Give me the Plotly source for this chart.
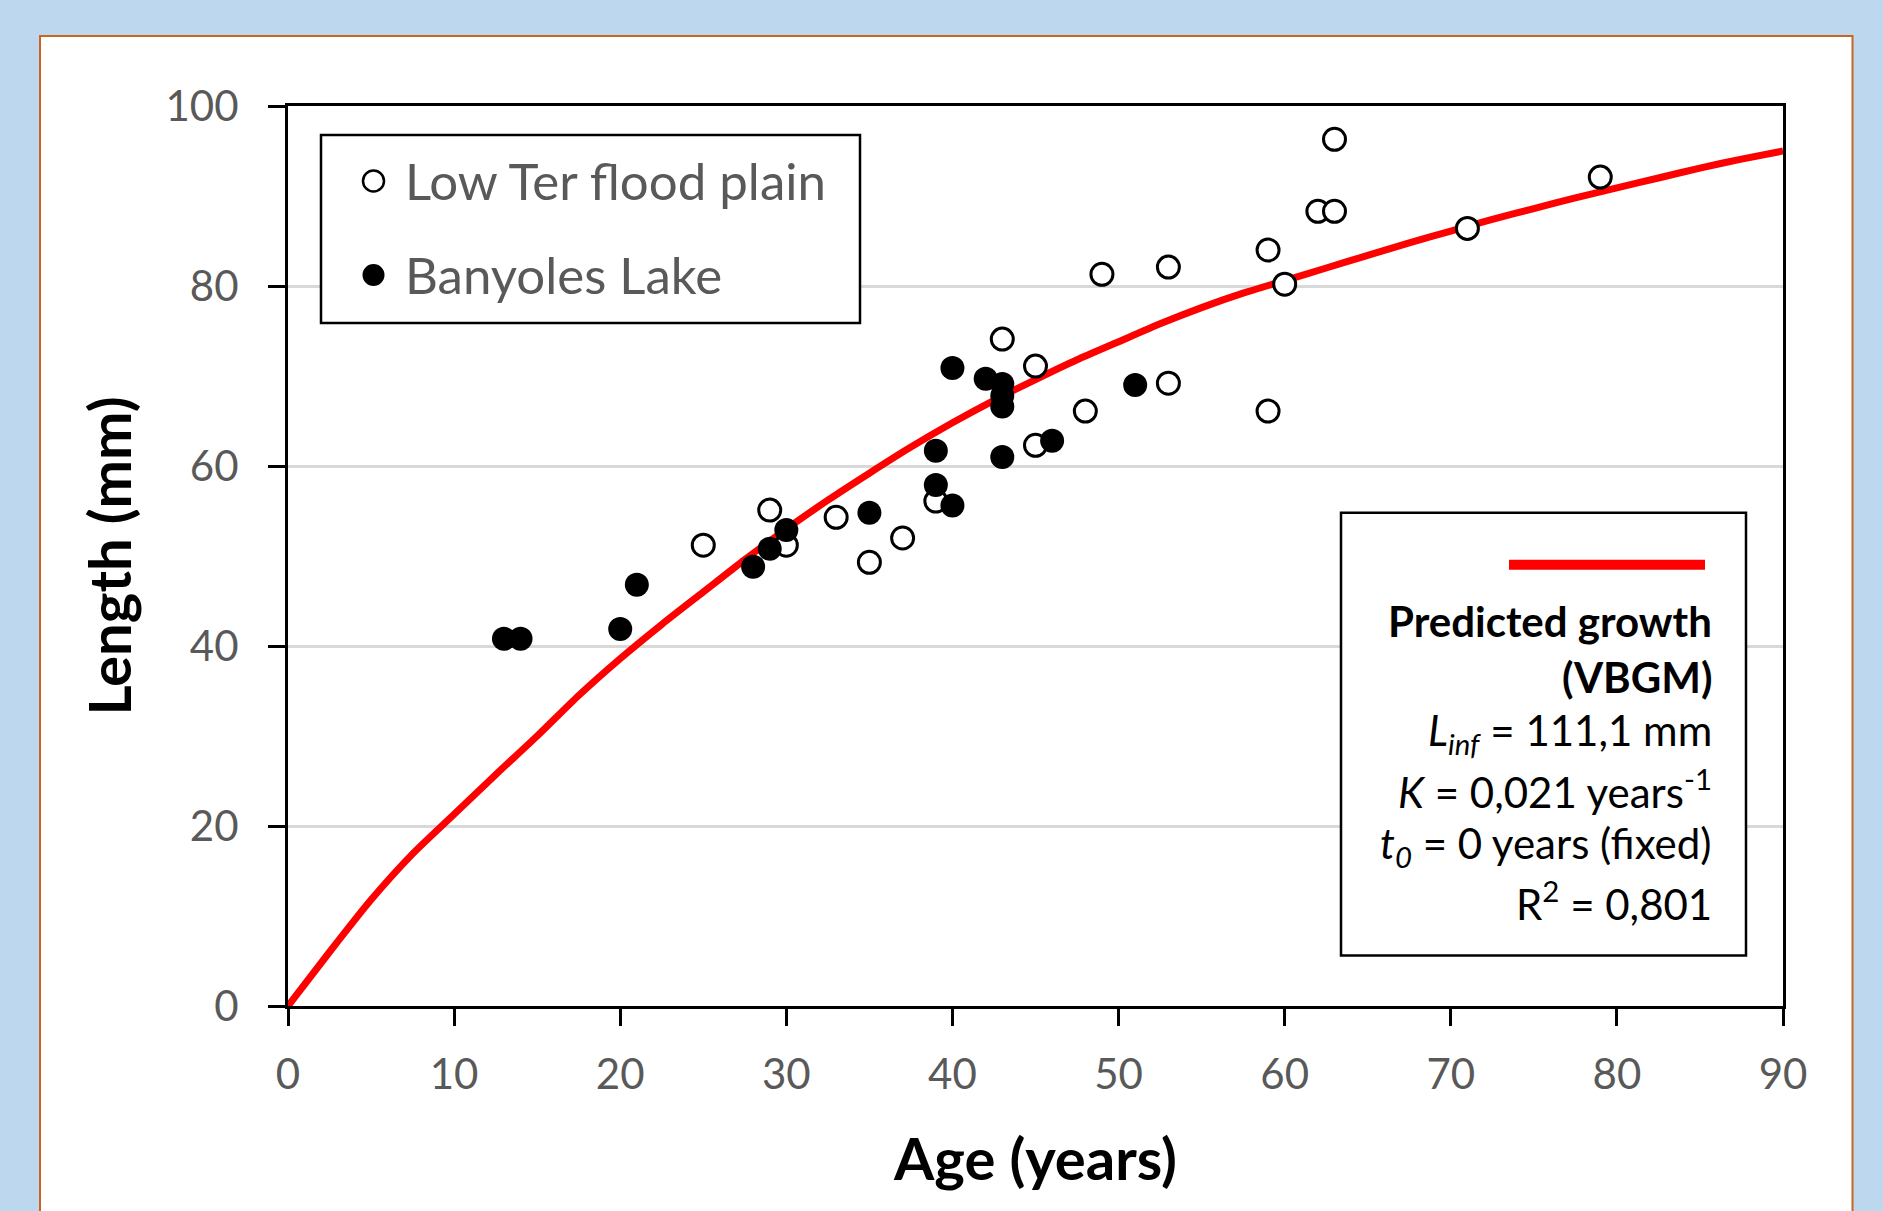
import plotly.graph_objects as go

# ---------------- data ----------------
age_low_ter = [25, 29, 30, 33, 35, 37, 39, 43, 45, 45, 48, 49, 53, 53, 59, 59, 60, 62, 63, 63, 71, 79]
len_low_ter = [51.2, 55.1, 51.2, 54.3, 49.3, 52.0, 56.1, 74.1, 71.1, 62.3, 66.1, 81.3, 82.1, 69.2,
               84.0, 66.1, 80.2, 88.3, 88.3, 96.3, 86.4, 92.1]

age_banyoles = [13, 14, 20, 21, 28, 29, 30, 35, 39, 39, 40, 40, 42, 43, 43, 43, 43, 46, 51]
len_banyoles = [40.8, 40.8, 41.9, 46.8, 48.8, 50.8, 52.9, 54.8, 61.7, 57.9, 70.9, 55.6, 69.7,
                69.1, 67.8, 66.6, 61.0, 62.8, 69.0]

curve_age = [0, 2.5, 5, 7.5, 10, 12.5, 15, 17.5, 20, 22.5, 25, 27.5, 30, 32.5, 35, 37.5, 40, 42.5,
             45, 47.5, 50, 52.5, 55, 57.5, 60, 62.5, 65, 67.5, 70, 72.5, 75, 77.5, 80, 82.5, 85,
             87.5, 90]
curve_len = [0, 6.0, 11.8, 16.9, 21.3, 25.7, 30.0, 34.5, 38.6, 42.4, 46.0, 49.6, 53.0, 56.2, 59.2,
             62.1, 64.8, 67.3, 69.6, 71.8, 73.8, 75.8, 77.6, 79.2, 80.6, 82.0, 83.4, 84.8, 86.1,
             87.4, 88.6, 89.8, 90.9, 92.0, 93.1, 94.1, 95.0]

x_ticks = [0, 10, 20, 30, 40, 50, 60, 70, 80, 90]
y_ticks = [0, 20, 40, 60, 80, 100]

legend_names = ["Low Ter flood plain", "Banyoles Lake"]
model_lines = [
    "<b>Predicted growth</b>",
    "<b>(VBGM)</b>",
    "<i>L<sub>inf</sub></i> = 111,1 mm",
    "<i>K</i> = 0,021 years<sup>-1</sup>",
    "<i>t<sub>0</sub></i> = 0 years (fixed)",
    "R<sup>2</sup> = 0,801",
]

# ---------------- layout geometry (pixels) ----------------
W, H = 1883, 1211
ML, MR, MT, MB = 288, 100, 106, 204.5
PW = W - ML - MR
PH = H - MT - MB
FONT = "Lato, 'Open Sans', sans-serif"


def px(x):
    return (x - ML) / PW


def py(y):
    return (H - MB - y) / PH


fig = go.Figure()

fig.add_trace(go.Scatter(
    x=curve_age, y=curve_len, mode="lines", name="Predicted growth (VBGM)",
    line=dict(color="#FF0000", width=7, shape="spline", smoothing=0.6), showlegend=False))

fig.add_trace(go.Scatter(
    x=age_low_ter, y=len_low_ter, mode="markers", name=legend_names[0],
    marker=dict(symbol="circle", size=22, color="white", line=dict(color="black", width=3)),
    showlegend=False))

fig.add_trace(go.Scatter(
    x=age_banyoles, y=len_banyoles, mode="markers", name=legend_names[1],
    marker=dict(symbol="circle", size=24, color="black", line=dict(width=0)),
    showlegend=False))

shapes = []
# white panel with orange border
shapes.append(dict(type="rect", xref="paper", yref="paper", layer="below",
                   x0=px(40), x1=px(1852.5), y0=py(1240), y1=py(36),
                   fillcolor="white", line=dict(color="#C9651E", width=2)))
# legend box
shapes.append(dict(type="rect", xref="paper", yref="paper", layer="above",
                   x0=px(321), x1=px(860), y0=py(323), y1=py(135),
                   fillcolor="white", line=dict(color="black", width=2.5)))
# legend markers
for cy, fill, lw, d in [(181, "white", 2.5, 21), (275, "black", 0, 22)]:
    shapes.append(dict(type="circle", xref="paper", yref="paper", layer="above",
                       xsizemode="pixel", ysizemode="pixel",
                       xanchor=px(373.5), yanchor=py(cy),
                       x0=-d / 2, x1=d / 2, y0=-d / 2, y1=d / 2,
                       fillcolor=fill, line=dict(color="black", width=lw)))
# model box
shapes.append(dict(type="rect", xref="paper", yref="paper", layer="above",
                   x0=px(1341), x1=px(1746), y0=py(956), y1=py(513),
                   fillcolor="white", line=dict(color="black", width=2.5)))
shapes.append(dict(type="line", xref="paper", yref="paper", layer="above",
                   x0=px(1509), x1=px(1705), y0=py(565), y1=py(565),
                   line=dict(color="#FF0000", width=10)))

annotations = []
for name, cy in zip(legend_names, [181, 275]):
    annotations.append(dict(xref="paper", yref="paper", x=px(403), y=py(cy),
                            xanchor="left", yanchor="middle", showarrow=False, text=name,
                            font=dict(family=FONT, size=51, color="#595959")))
line_y = [621, 677, 733, 789, 846, 901]
for txt, cy in zip(model_lines, line_y):
    annotations.append(dict(xref="paper", yref="paper", x=px(1714), y=py(cy),
                            xanchor="right", yanchor="middle", showarrow=False, text=txt,
                            font=dict(family=FONT, size=42, color="black")))

axis_common = dict(
    showline=True, linecolor="black", linewidth=3, mirror=True,
    ticks="outside", ticklen=17, tickwidth=2.5, tickcolor="black",
    tickfont=dict(family=FONT, size=42, color="#595959"),
    zeroline=False, automargin=False,
)

fig.update_xaxes(range=[0, 90], tickvals=x_ticks, showgrid=False,
                 ticklabelstandoff=13,
                 title=dict(text="Age (years)", standoff=42,
                            font=dict(family=FONT, size=58, color="black", weight="bold")),
                 **axis_common)
fig.update_yaxes(range=[0, 100], tickvals=y_ticks, showgrid=True, gridcolor="#D9D9D9",
                 gridwidth=2.5, ticklabelstandoff=21,
                 title=dict(text="Length (mm)", standoff=16,
                            font=dict(family=FONT, size=58, color="black", weight="bold")),
                 **axis_common)

fig.update_layout(
    template="none",
    width=W, height=H,
    margin=dict(l=ML, r=MR, t=MT, b=MB, pad=0),
    paper_bgcolor="#BDD7EE",
    plot_bgcolor="white",
    showlegend=False,
    shapes=shapes,
    annotations=annotations,
)

fig.write_html("out.html", config={"displayModeBar": False},
               post_script="document.body.style.margin='0';document.body.style.overflow='hidden';")
